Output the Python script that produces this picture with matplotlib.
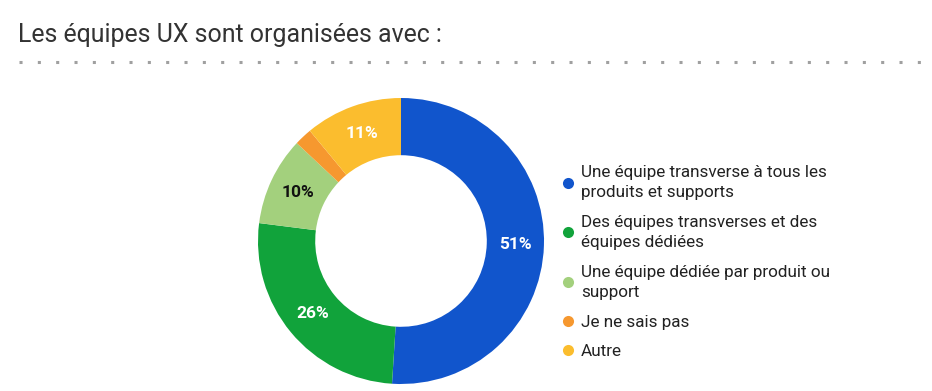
import matplotlib.pyplot as plt
from matplotlib.lines import Line2D

title = "Les équipes UX sont organisées avec :"
labels = [
    "Une équipe transverse à tous les\nproduits et supports",
    "Des équipes transverses et des\néquipes dédiées",
    "Une équipe dédiée par produit ou\nsupport",
    "Je ne sais pas",
    "Autre",
]
values = [51, 26, 10, 2, 11]
colors = ["#1155cc", "#11a33b", "#a3d07d", "#f6982f", "#fbbd2e"]
label_colors = ["white", "white", "#111111", "white", "white"]

W, H = 932, 391
plt.rcParams['font.family'] = ['Roboto', 'DejaVu Sans']
fig = plt.figure(figsize=(W / 100, H / 100), dpi=100)
ax = fig.add_axes([0, 0, 1, 1])
ax.set_xlim(0, W)
ax.set_ylim(0, H)
ax.set_aspect('equal')
ax.axis('off')

# title + dotted rule
ax.text(18, H - 42, title, fontsize=17.9, color='#333333', va='baseline', ha='left')
ax.plot([19, W], [H - 62, H - 62], color='#a0a0a0', lw=2.2,
        linestyle=(0, (1, 5)), solid_capstyle='butt', dash_capstyle='butt')

wedges, texts, autotexts = ax.pie(
    values, colors=colors, startangle=90, counterclock=False,
    center=(401, H - 241), radius=143, frame=True,
    wedgeprops=dict(width=143 * 0.4, linewidth=0),
    autopct=lambda p: f"{p:.0f}%" if p >= 5 else "", pctdistance=0.8,
    textprops=dict(fontsize=12.5, fontweight='bold'))
for t, c in zip(autotexts, label_colors):
    t.set_color(c)
ax.set_xlim(0, W)
ax.set_ylim(0, H)
ax.axis('off')

handles = [Line2D([], [], marker='o', linestyle='', markersize=8,
                  markerfacecolor=c, markeredgewidth=0) for c in colors]
leg = ax.legend(handles, labels, loc='upper left', bbox_to_anchor=(563 / W, 1 - 165 / H),
                frameon=False, fontsize=12.3, handlelength=0.6, handletextpad=0.45,
                labelspacing=0.86, borderpad=0, borderaxespad=0, labelcolor='#222222')
for t in leg.get_texts():
    t.set_linespacing(1.43)

fig.savefig('out.png', dpi=100)
